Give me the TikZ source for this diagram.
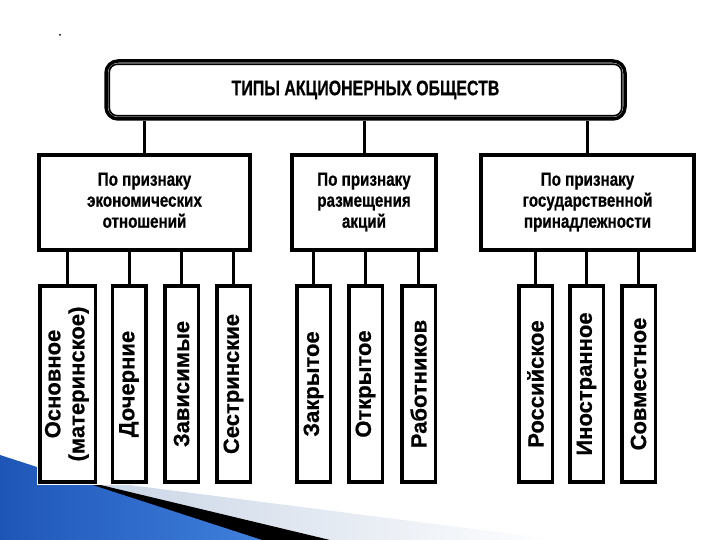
\documentclass[tikz,border=0pt]{standalone}
\usepackage{fontspec}
\setmainfont{Liberation Sans}[BoldFeatures={FakeBold=0.6}]
\usetikzlibrary{calc}
\definecolor{deckblue}{RGB}{30,86,184}
\definecolor{deckblueL}{RGB}{64,128,220}
\definecolor{deckgray}{RGB}{190,204,224}
\begin{document}
\begin{tikzpicture}[x=1pt,y=-1pt,
  conn/.style={line width=3pt},
  topbox/.style={draw, line width=3.5pt, rounded corners=12pt, minimum width=519pt, minimum height=58pt, inner sep=0pt,
    font=\bfseries\fontsize{21}{24}\selectfont},
  midbox/.style={draw, line width=3.5pt, minimum width=#1, minimum height=95pt, inner sep=0pt,
    font=\bfseries\fontsize{19}{21}\selectfont},
  leafbox/.style={draw, line width=3.5pt, minimum width=#1, minimum height=196pt, inner sep=0pt,
    font=\bfseries\fontsize{22}{24}\selectfont}]
\useasboundingbox (0,0) rectangle (720,540);
% decoration
\shade[left color=deckgray, right color=white] (98,481) -- (560,540) -- (0,540) -- (0,481) -- cycle;
\fill[black] (88,482) -- (330,540) -- (0,540) -- (0,482) -- cycle;
\shade[left color=deckblue, right color=deckblueL] (0,455) -- (262,540) -- (0,540) -- cycle;
\fill[white] (37,40) rectangle (700,485);
\fill (60,35) circle (1pt);
% top
\node[topbox] (top) at (365.5,90) {\scalebox{0.76}[1]{ТИПЫ АКЦИОНЕРНЫХ ОБЩЕСТВ}};
\draw[line width=1.6pt, rounded corners=8pt] ([xshift=5pt,yshift=-5pt]top.north west) rectangle ([xshift=-5pt,yshift=5pt]top.south east);
% middle
\node[midbox=211pt] (m1) at (144.5,202.5) {\scalebox{0.8}[1]{\begin{tabular}{@{}c@{}}По признаку\\экономических\\отношений\end{tabular}}};
\node[midbox=144pt] (m2) at (364,202.5) {\scalebox{0.8}[1]{\begin{tabular}{@{}c@{}}По признаку\\размещения\\акций\end{tabular}}};
\node[midbox=213pt] (m3) at (587.5,202.5) {\scalebox{0.8}[1]{\begin{tabular}{@{}c@{}}По признаку\\государственной\\принадлежности\end{tabular}}};
\foreach \m in {m1,m2,m3} \draw[conn] (top.south -| \m) -- (\m.north);
% leaves
\node[leafbox=55.5pt] (a) at (67.5,384) {\rotatebox{90}{\begin{tabular}{@{}c@{}}Основное\\[0pt](материнское)\end{tabular}}};
\node[leafbox=33.5pt] (b) at (129,384) {\rotatebox{90}{Дочерние}};
\node[leafbox=33.5pt] (c) at (181.5,384) {\rotatebox{90}{Зависимые}};
\node[leafbox=33.5pt] (d) at (233.5,384) {\rotatebox{90}{Сестринские}};
\node[leafbox=33.5pt] (e) at (313.5,384) {\rotatebox{90}{Закрытое}};
\node[leafbox=33.5pt] (f) at (365.5,384) {\rotatebox{90}{Открытое}};
\node[leafbox=33.5pt] (g) at (418.5,384) {\rotatebox{90}{Работников}};
\node[leafbox=33.5pt] (h) at (535.5,384) {\rotatebox{90}{Российское}};
\node[leafbox=33.5pt] (i) at (586.5,384) {\rotatebox{90}{Иностранное}};
\node[leafbox=33.5pt] (j) at (638.5,384) {\rotatebox{90}{Совместное}};
\foreach \l in {a,b,c,d} \draw[conn] (m1.south -| \l) -- (\l.north);
\foreach \l in {e,f,g} \draw[conn] (m2.south -| \l) -- (\l.north);
\foreach \l in {h,i,j} \draw[conn] (m3.south -| \l) -- (\l.north);
\end{tikzpicture}
\end{document}
